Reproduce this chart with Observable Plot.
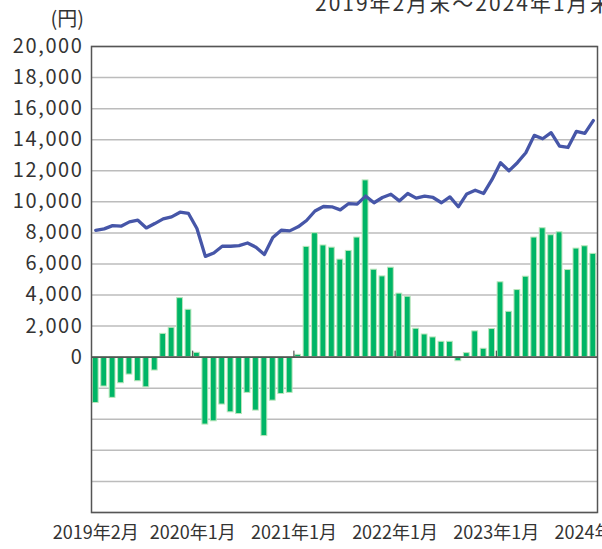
<!DOCTYPE html>
<html><head><meta charset="utf-8">
<script src="https://cdn.jsdelivr.net/npm/d3@7"></script>
<script src="https://cdn.jsdelivr.net/npm/@observablehq/plot@0.6"></script>
<style>
body{margin:0;background:#fff;}
#wrap{position:relative;width:602px;height:549px;overflow:hidden;font-family:"Noto Sans CJK JP",sans-serif;color:#333;}
#chart{position:absolute;left:0;top:0;}
#title{position:absolute;left:315px;top:-10px;font-size:21px;line-height:24px;white-space:nowrap;letter-spacing:2px;}
#unit{position:absolute;left:0;width:84px;text-align:right;top:6px;font-size:20px;line-height:24px;}
#chart svg g[aria-label="y-axis tick label"] text{letter-spacing:1.6px;}
</style></head><body>
<div id="wrap"><div id="chart"></div><div id="title">2019年2月末～2024年1月末</div><div id="unit">(円)</div></div>
<script>
// net flow per month (yen), Feb 2019 .. Jan 2024
const flows = [-2950,-1890,-2620,-1680,-1120,-1550,-1940,-860,
  1500,1890,3800,3050,280,
  -4340,-4130,-3050,-3550,-3660,-2300,-3440,-5080,-2800,-2370,-2300,
  150,
  7100,7980,7190,7050,6280,6840,7700,
  11380,5630,5200,5760,4090,3890,1830,1460,1270,990,990,
  -260,
  260,1660,540,1810,4820,2920,4320,5180,7700,8300,7850,8040,5610,6990,7140,6650];
// price (yen)
const prices = [8170,8260,8470,8430,8710,8820,8320,8600,8900,9030,
  9330,9250,8280,6490,6710,7140,7140,7180,7350,7080,
  6610,7700,8170,8130,8390,8800,9410,9700,9680,9480,
  9890,9850,10370,9940,10280,10490,10060,10540,10240,10370,
  10280,9940,10320,9680,10510,10750,10540,11440,12520,12000,
  12520,13160,14280,14060,14450,13590,13500,14540,14410,15230];
const yTickValues = [0,2000,4000,6000,8000,10000,12000,14000,16000,18000,20000];
const gridValues = [-10000,-8000,-6000,-4000,-2000,0,2000,4000,6000,8000,10000,12000,14000,16000,18000,20000];
const yearBoundaries = [12,24,36,48];
const xLabels = ["2019年2月","2020年1月","2021年1月","2022年1月","2023年1月","2024年1月"];
const xLabelAt = [0.5,12,24,36,48,60];

const data = flows.map((f,i)=>({i, flow:f, price:prices[i]}));
const fmt = d3.format(",");

const chart = Plot.plot({
  width:602, height:549,
  marginLeft:91, marginRight:5, marginTop:46, marginBottom:37,
  x:{domain:[0,60], axis:null},
  y:{domain:[-10000,20000]},
  style:{fontFamily:'"Noto Sans CJK JP", sans-serif', color:"#333", background:"transparent", overflow:"visible"},
  marks:[
    Plot.gridY(gridValues,{stroke:"#bcbcbc", strokeOpacity:1, strokeWidth:1.5}),
    Plot.rectY(data,{x1:"i", x2:d=>d.i+1, y1:0, y2:"flow", insetLeft:1.3, insetRight:1.3,
      fill:"#00b566", stroke:"#b9e6bb", strokeWidth:1}),
    Plot.ruleY([0],{stroke:"#555", strokeWidth:1.6}),
    Plot.ruleX(yearBoundaries,{x:d=>d, y1:0, y2:0, insetTop:-6, stroke:"#333", strokeWidth:1}),
    Plot.line(data,{x:d=>d.i+0.5, y:"price", stroke:"#4656a8", strokeWidth:3.3, strokeLinejoin:"round"}),
    Plot.frame({stroke:"#555", strokeWidth:1.5}),
    Plot.axisY(yTickValues,{tickSize:0, tickPadding:8, fontSize:20, tickFormat:d=>fmt(d)}),
    Plot.text(xLabels,{x:(d,i)=>xLabelAt[i], frameAnchor:"bottom", dy:26, fontSize:18, fill:"#333"})
  ]
});
document.getElementById("chart").append(chart);
</script>
</body></html>
